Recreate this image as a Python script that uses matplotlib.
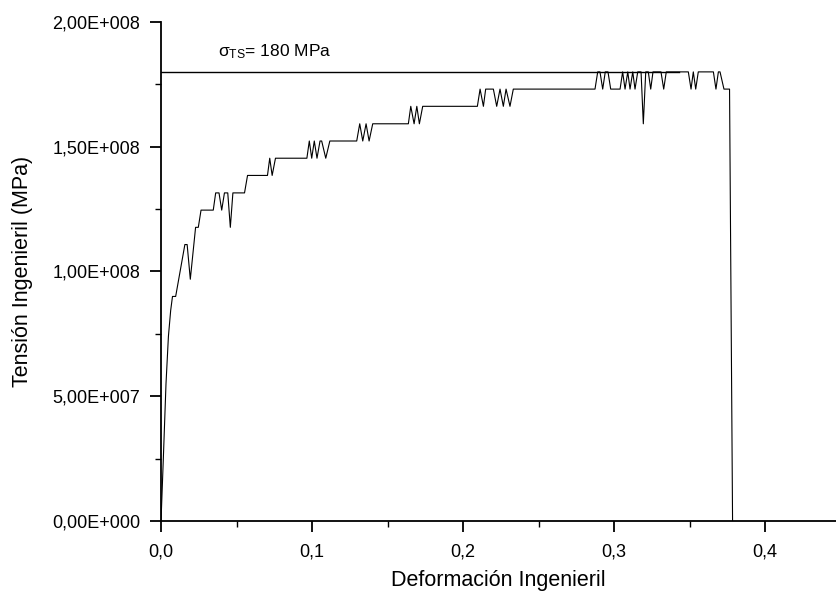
import matplotlib
matplotlib.use("Agg")
import matplotlib.pyplot as plt
from matplotlib.ticker import MultipleLocator, FuncFormatter

plt.rcParams['font.family'] = ['Liberation Sans', 'DejaVu Sans']
plt.rcParams['mathtext.fontset'] = 'custom'
plt.rcParams['mathtext.rm'] = 'Liberation Sans'
plt.rcParams['mathtext.it'] = 'Liberation Sans:italic'

# Engineering strain
strain = [0.0, 0.0015, 0.0033, 0.0049, 0.0064, 0.0076, 0.0097, 0.0158, 0.0173, 0.0194,
          0.0229, 0.0247, 0.0265, 0.0346, 0.0362, 0.0384, 0.0402, 0.0420, 0.0442, 0.0459,
          0.0476, 0.0553, 0.0573, 0.0705, 0.0720, 0.0736, 0.0758, 0.0966, 0.0982, 0.0998,
          0.1015, 0.1033, 0.1053, 0.1064, 0.1091, 0.1118, 0.1296, 0.1316, 0.1336, 0.1358,
          0.1378, 0.1402, 0.1638, 0.1654, 0.1676, 0.1694, 0.1711, 0.1733, 0.2095, 0.2113,
          0.2135, 0.2150, 0.2201, 0.2223, 0.2245, 0.2267, 0.2285, 0.2311, 0.2333, 0.2874,
          0.2892, 0.2907, 0.2925, 0.2942, 0.2960, 0.2978, 0.3040, 0.3057, 0.3073, 0.3091,
          0.3106, 0.3124, 0.3139, 0.3157, 0.3179, 0.3194, 0.3210, 0.3227, 0.3243, 0.3258,
          0.3311, 0.3329, 0.3346, 0.3492, 0.3510, 0.3525, 0.3541, 0.3558, 0.3658, 0.3675,
          0.3691, 0.3702, 0.3728, 0.3765, 0.3785]
# Engineering stress (MPa)
stress_mpa = [0, 24.4, 55, 74, 84.4, 90.0, 90.0, 110.8, 110.8, 96.9,
              117.7, 117.7, 124.6, 124.6, 131.5, 131.5, 124.6, 131.5, 131.5, 117.7,
              131.5, 131.5, 138.5, 138.5, 145.4, 138.5, 145.4, 145.4, 152.3, 145.4,
              152.3, 145.4, 152.3, 152.3, 145.4, 152.3, 152.3, 159.2, 152.3, 159.2,
              152.3, 159.2, 159.2, 166.2, 159.2, 166.2, 159.2, 166.2, 166.2, 173.1,
              166.2, 173.1, 173.1, 166.2, 173.1, 166.2, 173.1, 166.2, 173.1, 173.1,
              180.0, 180.0, 173.1, 180.0, 180.0, 173.1, 173.1, 180.0, 173.1, 180.0,
              173.1, 180.0, 173.1, 180.0, 180.0, 159.2, 180.0, 180.0, 173.1, 180.0,
              180.0, 173.1, 180.0, 180.0, 173.1, 180.0, 173.1, 180.0, 180.0, 173.1,
              180.0, 180.0, 173.1, 173.1, 0.0]

uts_mpa = 180.0
uts_line_x = [0.0, 0.343]

stress = [v * 1e6 for v in stress_mpa]

fig = plt.figure(figsize=(8.36, 5.99), dpi=100)
ax = fig.add_axes([0.1926, 0.1302, 0.8074, 0.8331])

ax.plot(strain, stress, color='black', lw=0.8)
ax.plot(uts_line_x, [uts_mpa * 1e6] * 2, color='black', lw=1.0)
ax.text(0.0377, 1.862e8, r'$\mathregular{σ_{TS}}$= 180 MPa', fontsize=12.5,
        ha='left', va='baseline')

ax.set_xlim(0, 0.447)
ax.set_ylim(0, 2e8)

ax.spines['top'].set_visible(False)
ax.spines['right'].set_visible(False)
ax.spines['left'].set_linewidth(1.3)
ax.spines['bottom'].set_linewidth(1.3)

ax.xaxis.set_major_locator(MultipleLocator(0.1))
ax.xaxis.set_minor_locator(MultipleLocator(0.05))
ax.yaxis.set_major_locator(MultipleLocator(5e7))
ax.yaxis.set_minor_locator(MultipleLocator(2.5e7))

ax.xaxis.set_major_formatter(FuncFormatter(lambda v, p: f"{v:.1f}".replace('.', ',')))

def yfmt(v, p):
    if v == 0:
        return "0,00E+000"
    e = 0
    m = v
    while abs(m) >= 10:
        m /= 10
        e += 1
    return f"{m:.2f}".replace('.', ',') + f"E+{e:03d}"

ax.yaxis.set_major_formatter(FuncFormatter(yfmt))

ax.tick_params(which='major', direction='out', length=8, width=1.3, labelsize=13)
ax.tick_params(axis='y', which='major', pad=7)
ax.tick_params(axis='x', which='major', pad=8)
ax.tick_params(which='minor', direction='out', length=4, width=1.0)

ax.set_xlabel('Deformación Ingenieril', fontsize=15.5, labelpad=7)
ax.set_ylabel('Tensión Ingenieril (MPa)', fontsize=15.5, labelpad=14)

fig.savefig('out.png', dpi=100)
